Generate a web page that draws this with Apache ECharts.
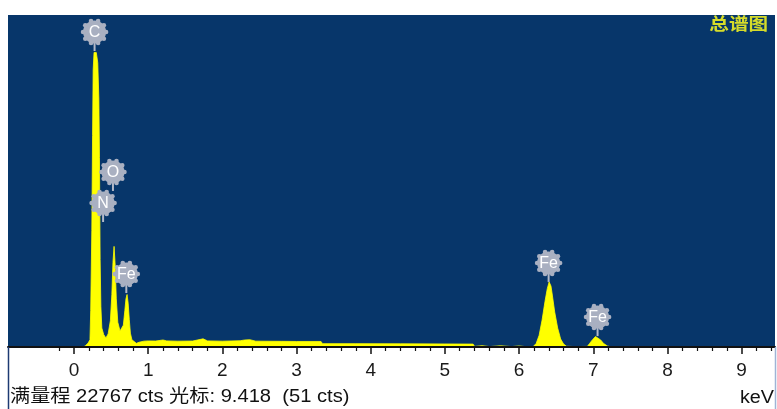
<!DOCTYPE html>
<html>
<head>
<meta charset="utf-8">
<title>总谱图</title>
<script src="https://cdn.jsdelivr.net/npm/echarts@6/dist/echarts.min.js"></script>
<style>
  html, body { margin: 0; padding: 0; background: #ffffff; }
  #chart { width: 777px; height: 409px; }
</style>
</head>
<body>
<div id="chart"></div>
<script>
// EDS spectrum: energy (keV) and counts per channel
const energies = [
  0.12, 0.15, 0.19, 0.215, 0.225, 0.24, 0.25, 0.258, 0.27, 0.285, 0.30, 0.32, 0.335, 0.343, 0.352, 0.362, 0.375,
  0.40, 0.43, 0.46, 0.49, 0.51, 0.525, 0.54, 0.555, 0.57, 0.59, 0.62, 0.645, 0.665, 0.685, 0.70, 0.715,
  0.73, 0.745, 0.76, 0.78, 0.80, 0.84, 0.88, 0.94, 1.00, 1.10, 1.20, 1.25, 1.40, 1.60, 1.74, 1.80,
  2.00, 2.24, 2.30, 2.37, 2.45, 2.80, 3.00, 3.33, 3.35, 3.80, 4.40, 5.00, 5.38, 5.40, 5.50, 5.60,
  5.75, 5.90, 6.00, 6.10, 6.19, 6.23, 6.27, 6.31, 6.35, 6.38, 6.405, 6.43, 6.45, 6.48, 6.52, 6.56,
  6.60, 6.64, 6.75, 6.92, 6.95, 6.99, 7.03, 7.05, 7.10, 7.14, 7.19, 7.25
];
const counts = [
  0, 70, 270, 500, 2500, 8000, 14500, 19000, 20200, 20330, 20200, 19500, 17000, 13000, 6000, 2800, 1300,
  850, 620, 900, 1800, 3600, 5800, 6900, 5600, 3300, 1700, 1100, 1000, 1500, 2500, 3300, 3600,
  3000, 1900, 950, 500, 380, 250, 330, 400, 420, 410, 480, 420, 400, 410, 560, 420,
  400, 430, 480, 500, 400, 390, 380, 380, 230, 230, 220, 210, 200, 40, 90, 30,
  80, 30, 70, 20, 30, 240, 800, 1850, 3150, 4000, 4460, 4180, 3500, 2400, 1300, 550,
  200, 50, 30, 40, 240, 500, 720, 750, 480, 240, 70, 0
];

// Element line markers: line energy (keV), marker height (counts), symbol
const lineEnergies = [0.277, 0.392, 0.525, 0.705, 6.398, 7.058];
const lineHeights = [20300, 8570, 10700, 3700, 4460, 750];
const lineNames = ['C', 'N', 'O', 'Fe', 'Fe', 'Fe'];

// Axis ticks (keV)
const majorTicks = [0, 1, 2, 3, 4, 5, 6, 7, 8, 9];
const minorTicks = [-0.2, 0.2, 0.4, 0.6, 0.8, 1.2, 1.4, 1.6, 1.8, 2.2, 2.4, 2.6, 2.8, 3.2, 3.4, 3.6, 3.8,
  4.2, 4.4, 4.6, 4.8, 5.2, 5.4, 5.6, 5.8, 6.2, 6.4, 6.6, 6.8, 7.2, 7.4, 7.6, 7.8,
  8.2, 8.4, 8.6, 8.8, 9.2, 9.4];

// Status line values
const fullScale = 22767;
const cursorEnergy = 9.418;
const cursorCounts = 51;

const X_MIN = -0.89, X_MAX = 9.45;
const LATIN = '"Liberation Sans", Arial, "Noto Sans CJK SC", sans-serif';

const chart = echarts.init(document.getElementById('chart'), null, { renderer: 'canvas' });

const spectrum = energies.map((e, i) => [e, counts[i]]);
const markers = lineEnergies.map((e, i) => [e, lineHeights[i]]);

const badgeFill = '#a9b0c1';

function renderBadge(params, api) {
  const p = api.coord([api.value(0), api.value(1)]);
  const cx = p[0];
  const cy = p[1] - 19;
  const r = 11.5;
  const children = [{
    type: 'line',
    shape: { x1: cx, y1: p[1], x2: cx, y2: cy + r - 1 },
    style: { stroke: '#b3b9c8', lineWidth: 2 }
  }, {
    type: 'circle',
    shape: { cx: cx, cy: cy, r: r },
    style: { fill: badgeFill }
  }];
  // scalloped rim
  for (let k = 0; k < 10; k++) {
    const a = (Math.PI * 2 * k) / 10;
    children.push({
      type: 'circle',
      shape: { cx: cx + Math.cos(a) * r, cy: cy + Math.sin(a) * r, r: 2.3 },
      style: { fill: badgeFill }
    });
  }
  children.push({
    type: 'text',
    style: {
      text: lineNames[params.dataIndex],
      x: cx, y: cy + 1,
      align: 'center', verticalAlign: 'middle',
      textAlign: 'center', textVerticalAlign: 'middle',
      fill: '#ffffff',
      font: '16px ' + LATIN
    }
  });
  return { type: 'group', children: children };
}

const statusText = '满量程 ' + fullScale + ' cts 光标: ' + cursorEnergy.toFixed(3) + '  (' + cursorCounts + ' cts)';

chart.setOption({
  animation: false,
  backgroundColor: '#ffffff',
  grid: {
    left: 8, right: 2, top: 15, bottom: 62,
    show: true,
    backgroundColor: '#07366a',
    borderWidth: 0,
    outerBoundsMode: 'none'
  },
  xAxis: [{
    type: 'value',
    min: X_MIN, max: X_MAX,
    position: 'bottom',
    z: 5,
    axisLine: { show: true, onZero: false, lineStyle: { color: '#111111', width: 2 } },
    axisTick: { show: true, inside: false, length: 7, customValues: majorTicks,
      lineStyle: { color: '#111111', width: 1.5 } },
    axisLabel: { show: true, customValues: majorTicks, margin: 14, color: '#1a1a1a',
      fontSize: 19, fontFamily: LATIN },
    splitLine: { show: false }
  }, {
    type: 'value',
    min: X_MIN, max: X_MAX,
    position: 'bottom',
    offset: 0,
    z: 5,
    axisLine: { show: false, onZero: false },
    axisTick: { show: true, inside: false, length: 4, customValues: minorTicks,
      lineStyle: { color: '#111111', width: 1.2 } },
    axisLabel: { show: false },
    splitLine: { show: false }
  }],
  yAxis: {
    type: 'value',
    min: 0, max: fullScale,
    show: false,
    splitLine: { show: false }
  },
  series: [{
    type: 'line',
    data: spectrum,
    xAxisIndex: 0,
    symbol: 'none',
    showSymbol: false,
    smooth: false,
    silent: true,
    lineStyle: { color: '#ffff00', width: 0.8 },
    areaStyle: { color: '#ffff00', opacity: 1 },
    z: 2
  }, {
    type: 'custom',
    data: markers,
    xAxisIndex: 0,
    encode: { x: 0, y: 1 },
    renderItem: renderBadge,
    clip: false,
    silent: true,
    z: 4
  }],
  graphic: [{
    type: 'text',
    x: 768, y: 24,
    scaleX: 1.15,
    style: {
      text: '总谱图',
      align: 'right', verticalAlign: 'middle',
      textAlign: 'right', textVerticalAlign: 'middle',
      fill: '#d6dc2a',
      font: 'bold 17px "Noto Sans CJK SC", sans-serif'
    },
    z: 10
  }, {
    type: 'text',
    x: 10, y: 397,
    scaleX: 1.12,
    style: {
      text: statusText,
      align: 'left', verticalAlign: 'middle',
      textAlign: 'left', textVerticalAlign: 'middle',
      fill: '#111111',
      font: '18px ' + LATIN
    },
    z: 10
  }, {
    type: 'text',
    x: 774, y: 398,
    scaleX: 1.1,
    style: {
      text: 'keV',
      align: 'right', verticalAlign: 'middle',
      textAlign: 'right', textVerticalAlign: 'middle',
      fill: '#111111',
      font: '18px ' + LATIN
    },
    z: 10
  }, {
    type: 'line',
    shape: { x1: 8.5, y1: 347, x2: 8.5, y2: 409 },
    style: { stroke: '#1d3a72', lineWidth: 1.5 },
    z: 10
  }, {
    type: 'line',
    shape: { x1: 775.5, y1: 347, x2: 775.5, y2: 409 },
    style: { stroke: '#9fb4d6', lineWidth: 1.5 },
    z: 10
  }]
});
</script>
</body>
</html>
